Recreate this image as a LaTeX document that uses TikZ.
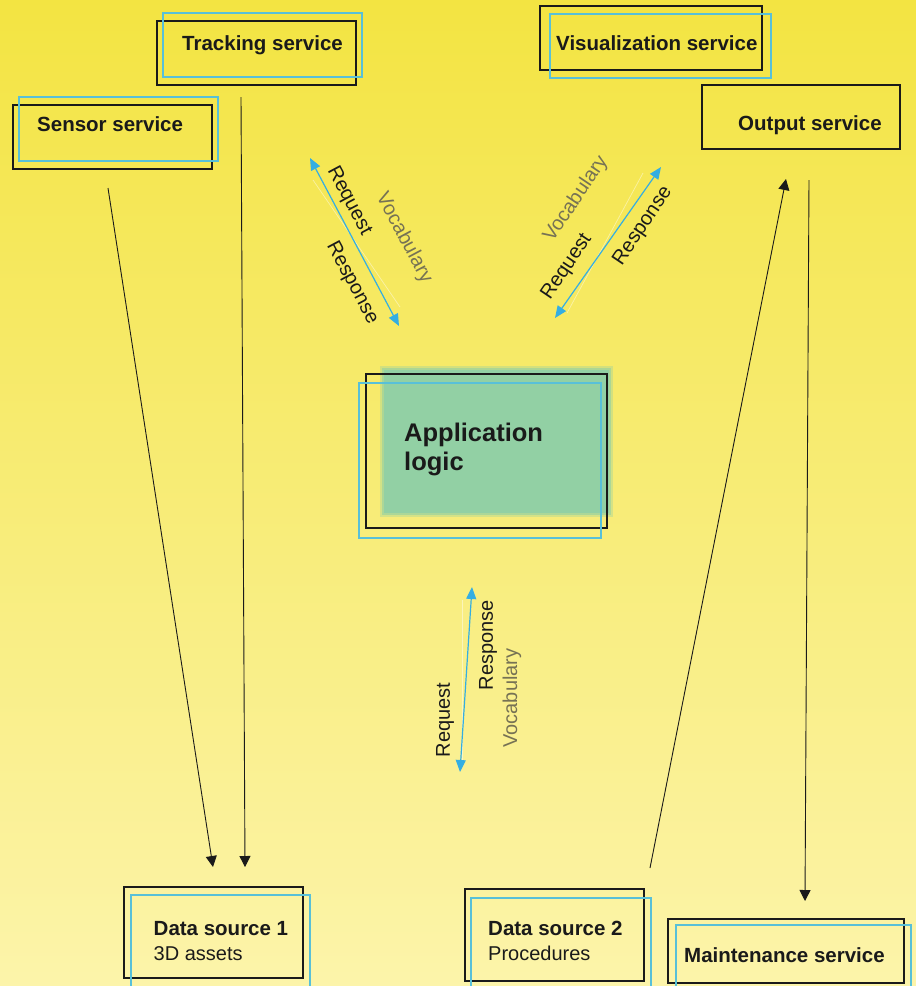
\documentclass[tikz,border=0pt]{standalone}
\usepackage{fontspec}
\setmainfont{Liberation Sans}
\usetikzlibrary{arrows.meta,fit}
\definecolor{bgtop}{RGB}{243,228,66}
\definecolor{bgbot}{RGB}{252,244,170}
\definecolor{cyanline}{RGB}{88,192,216}
\definecolor{arrblue}{RGB}{52,174,226}
\definecolor{appgreen}{RGB}{146,208,164}
\definecolor{vocab}{RGB}{118,114,84}
\definecolor{ink}{RGB}{26,26,26}
\begin{document}
\begin{tikzpicture}[x=1pt,y=-1pt,
  blk/.style={draw=ink, line width=1.6pt, inner sep=0pt},
  cyn/.style={draw=cyanline, line width=1.6pt, inner sep=0pt},
  lbl/.style={font=\fontsize{20.5}{24}\selectfont\bfseries, text=ink, inner sep=0pt},
  sub/.style={font=\fontsize{20}{24}\selectfont, text=ink, inner sep=0pt},
  applbl/.style={font=\fontsize{25.5}{29}\selectfont\bfseries, text=ink, inner sep=0pt},
  rlab/.style={font=\fontsize{20}{24}\selectfont, text=ink, inner sep=0pt},
  vlab/.style={font=\fontsize{20}{24}\selectfont, text=vocab, inner sep=0pt},
  barrow/.style={draw=ink, line width=0.9pt, -{Triangle[length=11pt,width=11pt]}},
  blarrow/.style={draw=arrblue, line width=1.2pt, {Triangle[length=12pt,width=10pt]}-{Triangle[length=12pt,width=10pt]}},
  ghost/.style={draw=white, opacity=0.45, line width=0.7pt}
]
\useasboundingbox (0,0) rectangle (916,986);
\shade[top color=bgtop, bottom color=bgbot] (0,0) rectangle (916,986);

% ---- Tracking service
\node[blk, fit={(157,21)(356,85)}] (trackB) {};
\node[cyn, fit={(163,13)(362,77)}] (trackC) {};
\node[lbl, anchor=base west] (trackT) at (182,50.5) {Tracking service};

% ---- Sensor service
\node[blk, fit={(13,105)(212,169)}] (sensB) {};
\node[cyn, fit={(19,97)(218,161)}] (sensC) {};
\node[lbl, anchor=base west] (sensT) at (37,131) {Sensor service};

% ---- Visualization service
\node[blk, fit={(540,6)(762,70)}] (visB) {};
\node[cyn, fit={(550,14)(771,78)}] (visC) {};
\node[lbl, anchor=base west] (visT) at (556,50) {Visualization service};

% ---- Output service
\node[blk, fit={(702,85)(900,149)}] (outB) {};
\node[lbl, anchor=base west] (outT) at (738,130.5) {Output service};

% ---- Application logic
\fill[appgreen, opacity=0.35] (380,366) rectangle (613,517);
\fill[appgreen, opacity=0.6] (382,368) rectangle (611,515);
\fill[appgreen] (384,370) rectangle (609,513);
\node[blk, fit={(366,374)(607,528)}] (appB) {};
\node[cyn, fit={(359,383)(601,538)}] (appC) {};
\node[applbl, anchor=base west] (appT1) at (404,441) {Application};
\node[applbl, anchor=base west] (appT2) at (404,470) {logic};

% ---- Data source 1
\node[blk, fit={(124,887)(303,978)}] (ds1B) {};
\node[cyn, fit={(131,895)(310,990)}] (ds1C) {};
\node[lbl, anchor=base west] (ds1T) at (153.5,935) {Data source 1};
\node[sub, anchor=base west] (ds1S) at (153.5,960) {3D assets};

% ---- Data source 2
\node[blk, fit={(465,889)(644,981)}] (ds2B) {};
\node[cyn, fit={(471,898)(651,990)}] (ds2C) {};
\node[lbl, anchor=base west] (ds2T) at (488,935) {Data source 2};
\node[sub, anchor=base west] (ds2S) at (488,960) {Procedures};

% ---- Maintenance service
\node[blk, fit={(668,919)(904,983)}] (mainB) {};
\node[cyn, fit={(676,925)(911,990)}] (mainC) {};
\node[lbl, anchor=base west] (mainT) at (684,962) {Maintenance service};

% ---- black connectors
\coordinate (a1s) at (108,188); \coordinate (a1e) at (213,867);
\coordinate (a2s) at (241,97);  \coordinate (a2e) at (245,867);
\coordinate (a3s) at (650,868); \coordinate (a3e) at (786,179);
\coordinate (a4s) at (809,180); \coordinate (a4e) at (805,901);
\draw[barrow] (a1s) -- (a1e);
\draw[barrow] (a2s) -- (a2e);
\draw[barrow] (a3s) -- (a3e);
\draw[barrow] (a4s) -- (a4e);

% ---- blue double arrows
\coordinate (ul1) at (310,158); \coordinate (ul2) at (399,326);
\coordinate (ur1) at (555,318); \coordinate (ur2) at (661,167);
\coordinate (vm1) at (472,587); \coordinate (vm2) at (460,772);
\coordinate (gul1) at (313,180); \coordinate (gul2) at (400,307);
\coordinate (gur1) at (567,313); \coordinate (gur2) at (643,173);
\coordinate (gvm1) at (462,600); \coordinate (gvm2) at (462,760);
\draw[ghost] (gul1) -- (gul2);
\draw[ghost] (gur1) -- (gur2);
\draw[ghost] (gvm1) -- (gvm2);
\draw[blarrow] (ul1) -- (ul2);
\draw[blarrow] (ur1) -- (ur2);
\draw[blarrow] (vm1) -- (vm2);

% ---- labels upper left
\node[rlab, rotate=-62] (ulReq) at (349,201) {Request};
\node[rlab, rotate=-62] (ulRes) at (352,283) {Response};
\node[vlab, rotate=-62] (ulVoc) at (404,238) {Vocabulary};
% ---- labels upper right
\node[vlab, rotate=56] (urVoc) at (576,199) {Vocabulary};
\node[rlab, rotate=56] (urReq) at (567,267) {Request};
\node[rlab, rotate=56] (urRes) at (643,226) {Response};
% ---- labels middle
\node[rlab, rotate=90] (vmReq) at (445,720) {Request};
\node[rlab, rotate=90] (vmRes) at (488,645) {Response};
\node[vlab, rotate=90] (vmVoc) at (512,698) {Vocabulary};
\end{tikzpicture}
\end{document}
